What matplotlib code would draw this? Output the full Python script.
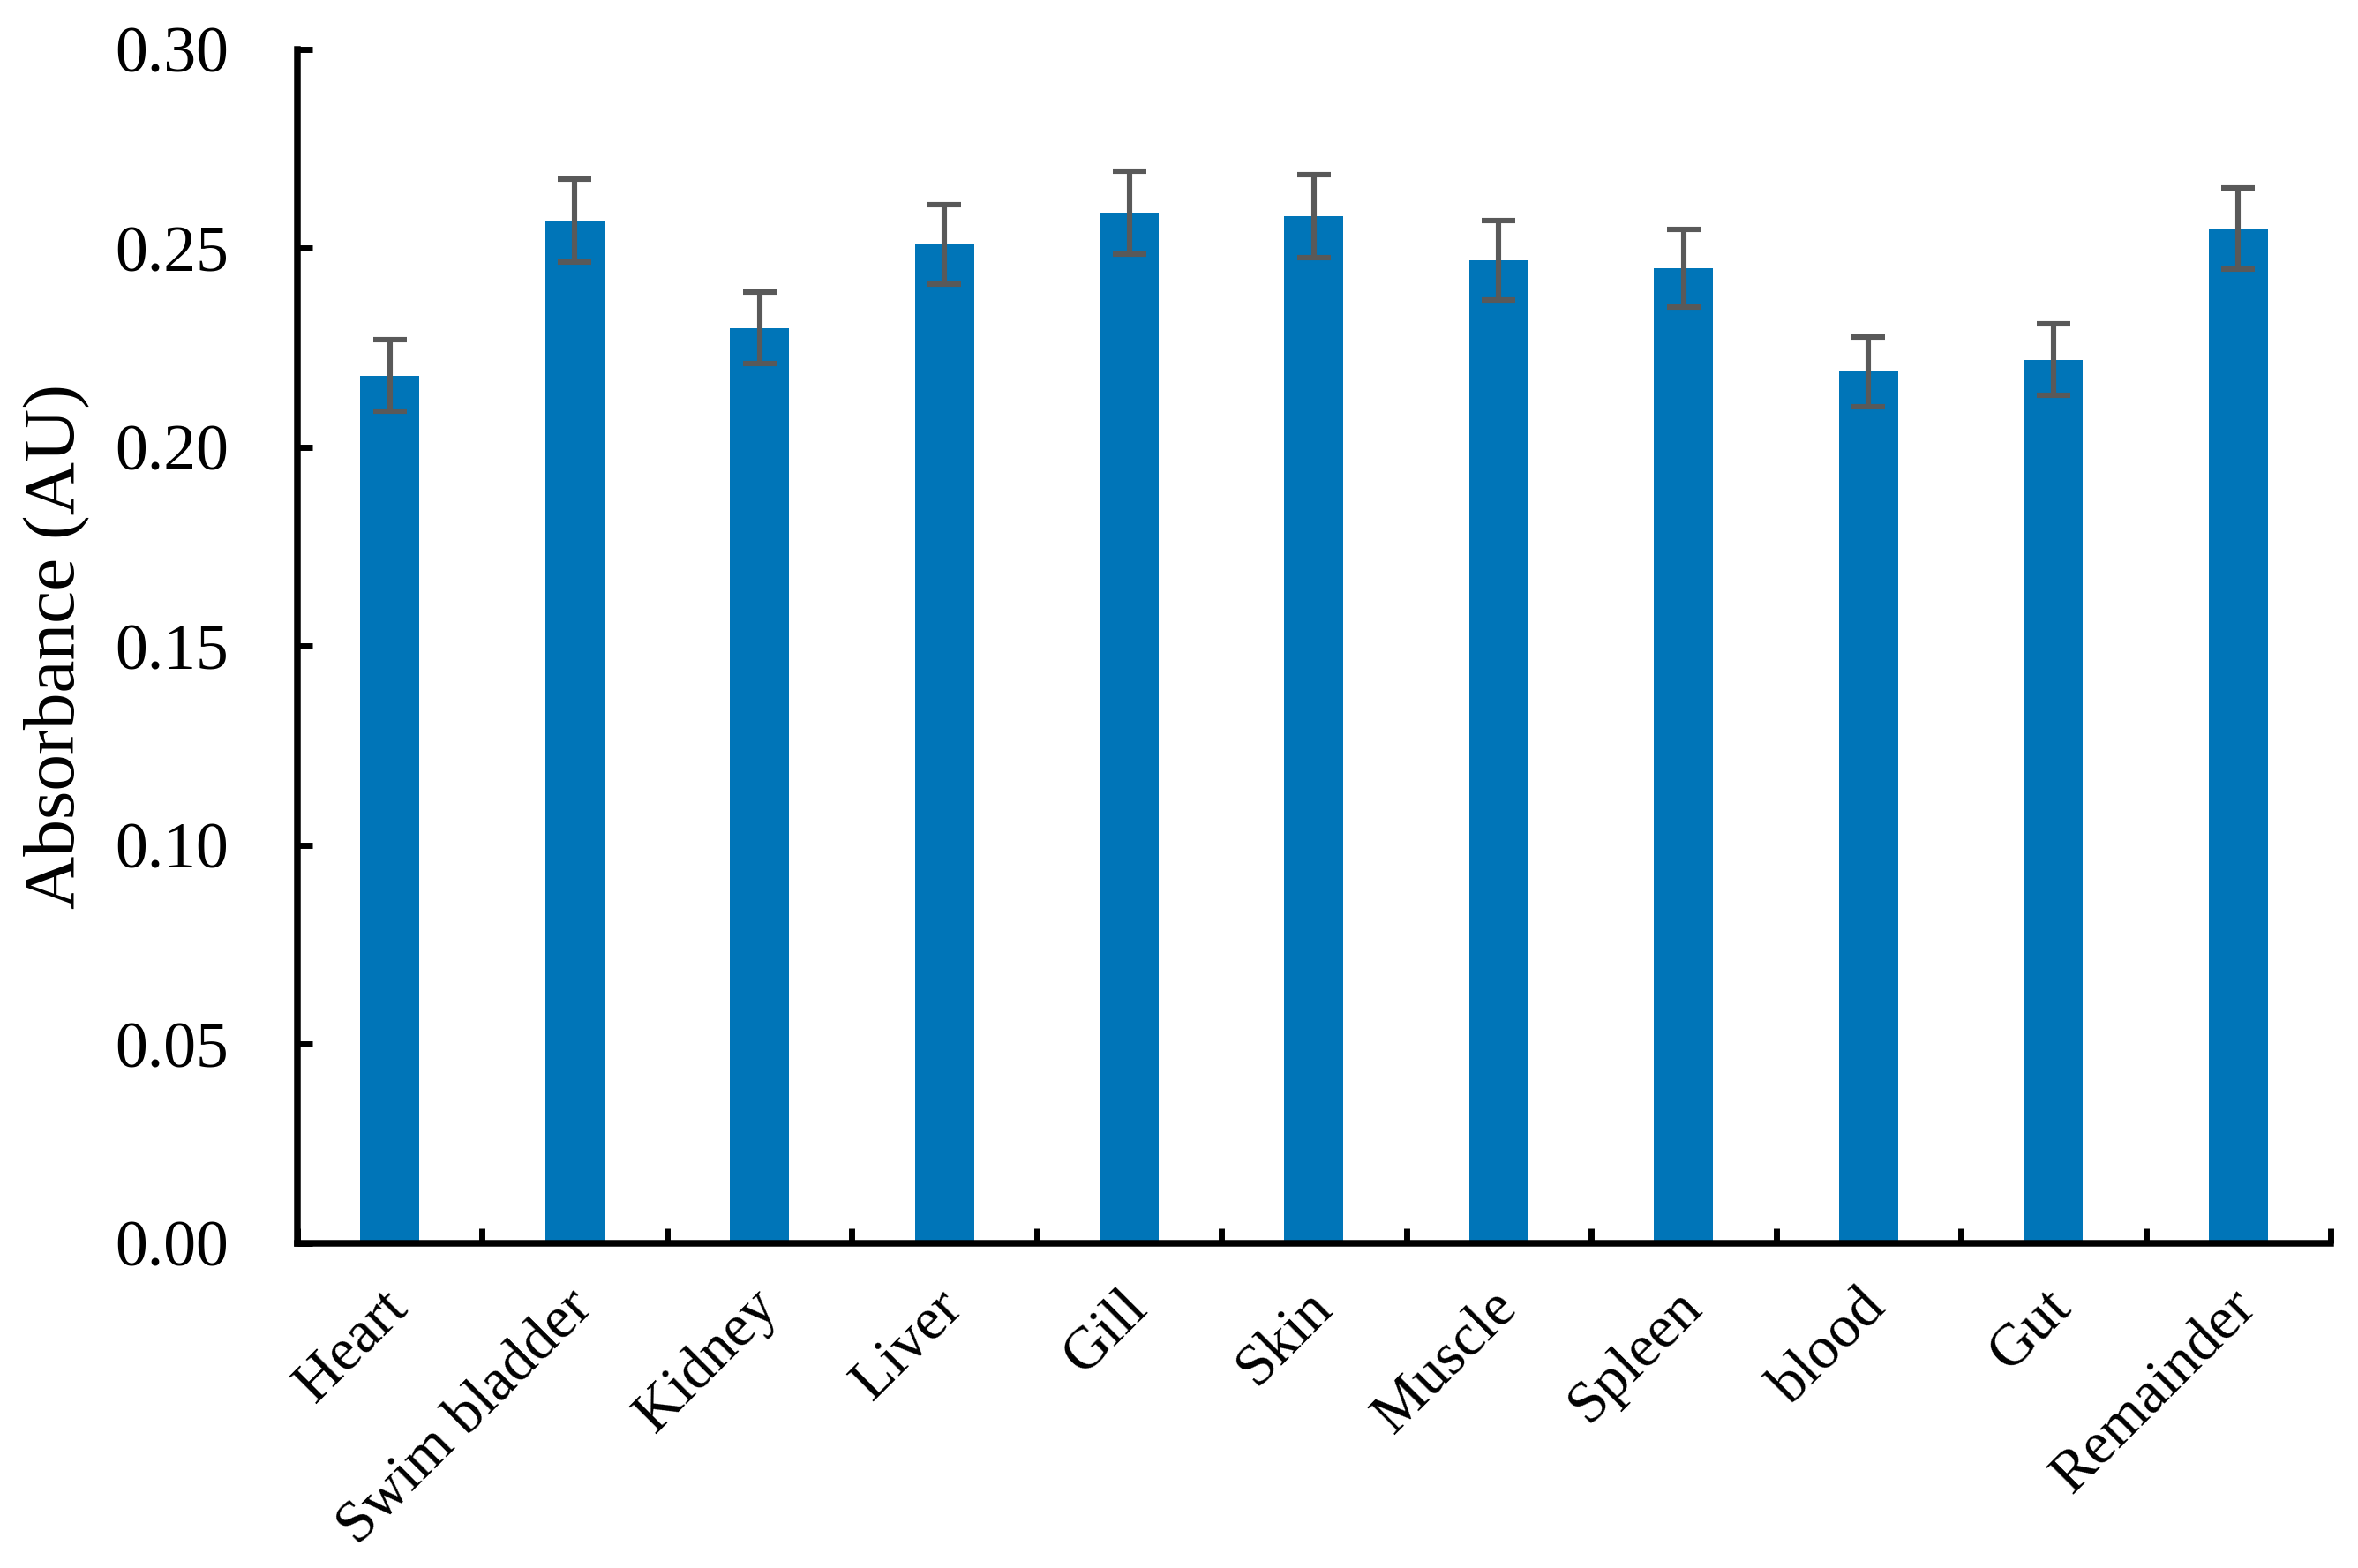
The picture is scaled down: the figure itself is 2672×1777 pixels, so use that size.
import matplotlib
matplotlib.use("Agg")
import matplotlib.pyplot as plt
import matplotlib.transforms as mtransforms
import numpy as np

# Data
tissues = ['Heart', 'Swim bladder', 'Kidney', 'Liver', 'Gill', 'Skin',
           'Muscle', 'Spleen', 'blood', 'Gut', 'Remainder']
absorbance = [0.218, 0.257, 0.230, 0.251, 0.259, 0.258,
              0.247, 0.245, 0.219, 0.222, 0.255]
errors = [0.009, 0.0105, 0.009, 0.010, 0.0104, 0.0104,
          0.010, 0.0097, 0.0087, 0.009, 0.0102]
yticks = [0.00, 0.05, 0.10, 0.15, 0.20, 0.25, 0.30]

plt.rcParams['font.family'] = ['Liberation Serif', 'DejaVu Serif']

fig = plt.figure(figsize=(13.36, 8.885), dpi=200)
ax = fig.add_axes([0.1261, 0.2071, 0.8623, 0.7614])

x = np.arange(len(tissues))
ax.bar(x, absorbance, width=0.32, color='#0075B8', zorder=2)
ax.errorbar(x, absorbance, yerr=errors, fmt='none', ecolor='#595959',
            elinewidth=2.2, capsize=7, capthick=2.2, zorder=3)

ax.set_xlim(-0.5, len(tissues) - 0.5)
ax.set_ylim(0, 0.30)
ax.set_yticks(yticks)
ax.set_yticklabels([f'{v:.2f}' for v in yticks])
ax.set_ylabel('Absorbance (AU)', fontsize=30, labelpad=10)

ax.set_xticks(x)
ax.set_xticklabels(tissues, rotation=45, ha='right', rotation_mode='anchor')
ax.set_xticks(np.arange(-0.5, len(tissues)), minor=True)
ax.tick_params(axis='x', which='major', length=0, pad=15, labelsize=24.5)
ax.tick_params(axis='x', which='minor', direction='in', length=6, width=2.5)
ax.tick_params(axis='y', direction='in', length=6, width=2.5, labelsize=26.5, pad=28)

# nudge the rotated labels slightly left, as in the original
shift = mtransforms.ScaledTranslation(-4 / 72, 0, fig.dpi_scale_trans)
for lbl in ax.get_xticklabels():
    lbl.set_transform(lbl.get_transform() + shift)

for side in ['top', 'right']:
    ax.spines[side].set_visible(False)
for side in ['left', 'bottom']:
    ax.spines[side].set_linewidth(2.7)

fig.savefig('out.png', dpi=200)
